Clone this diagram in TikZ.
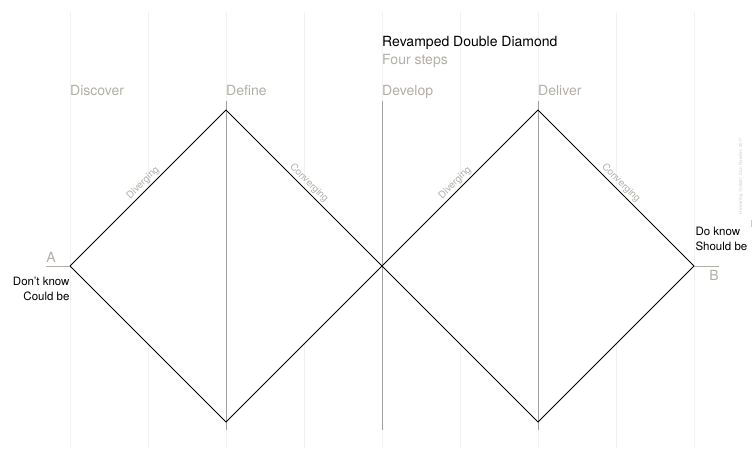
\documentclass[tikz,border=0pt]{standalone}
\usepackage{fontspec}
\setmainfont{TeX Gyre Heros}
\usepackage{tikz}
\usetikzlibrary{positioning}
\definecolor{trame}{RGB}{241,241,241}
\definecolor{axe}{RGB}{160,160,160}
\definecolor{pale}{RGB}{178,174,168}
\definecolor{credit}{RGB}{205,205,205}

\begin{document}
\begin{tikzpicture}[x=1pt,y=-1pt,
    phase/.style={pale,font=\fontsize{14}{16}\selectfont,anchor=base west,inner sep=0pt},
    etat/.style={font=\fontsize{11.5}{14}\selectfont,inner sep=0pt},
    pente/.style={pale,font=\fontsize{9.8}{11}\selectfont,sloped,above,inner sep=2pt}]
  \useasboundingbox (0,0) rectangle (752,448);
  % trame verticale, pas de 78
  \foreach \i in {0,...,8}
    \draw[trame,line width=0.8pt] ({70+78*\i},12) -- ({70+78*\i},448);
  % sommets des deux losanges
  \coordinate (A) at (70,266);
  \coordinate (haut1) at (226,110);
  \coordinate (bas1) at (226,422);
  \coordinate (milieu) at (382,266);
  \coordinate (haut2) at (538,110);
  \coordinate (bas2) at (538,422);
  \coordinate (B) at (694,266);
  \coordinate (finA) at (46,266);
  \coordinate (finB) at (719,266);
  \fill[white] (A)--(haut1)--(milieu)--(bas1)--cycle;
  \fill[white] (milieu)--(haut2)--(B)--(bas2)--cycle;
  \foreach \x in {226,382,538}
    \draw[axe,line width=1pt] (\x,101) -- (\x,430);
  \draw[line width=0.75pt] (A) -- node[pente]{Diverging} (haut1)
    -- node[pente]{Converging} (milieu)
    -- node[pente]{Diverging} (haut2)
    -- node[pente]{Converging} (B)
    -- (bas2) -- (milieu) -- (bas1) -- cycle;
  \draw[pale,line width=0.9pt] (finA) -- (A);
  \draw[pale,line width=0.9pt] (B) -- (finB);
  % titres
  \node[phase,black] (titre) at (382,46) {Revamped Double Diamond};
  \node[phase] (soustitre) at (382,64.5) {Four steps};
  \foreach \x/\nom in {70/Discover,226/Define,382/Develop,538/Deliver}
    \node[phase] (\nom) at (\x,95) {\nom};
  % extremites
  \node[pale,font=\fontsize{14}{16}\selectfont,anchor=base,inner sep=0pt] (lblA) at (51,262) {A};
  \node[pale,font=\fontsize{14}{16}\selectfont,anchor=base,inner sep=0pt] (lblB) at (714,280) {B};
  \node[etat,anchor=base east] (dontknow) at (69.7,285.7) {Don’t know};
  \node[etat,anchor=base east] (couldbe) at (69.7,300.5) {Could be};
  \node[etat,anchor=base west] (doknow) at (695.3,235.5) {Do know};
  \node[etat,anchor=base west] (shouldbe) at (695.3,250) {Should be};
  \node[credit,rotate=90,font=\fontsize{4.6}{5}\selectfont,inner sep=0pt] (source) at (741,176) {Hinderling Volkart, Dan Nessler, 2017};
  \draw[credit,line width=0.8pt] (751,220) -- (751,227);
\end{tikzpicture}
\end{document}
